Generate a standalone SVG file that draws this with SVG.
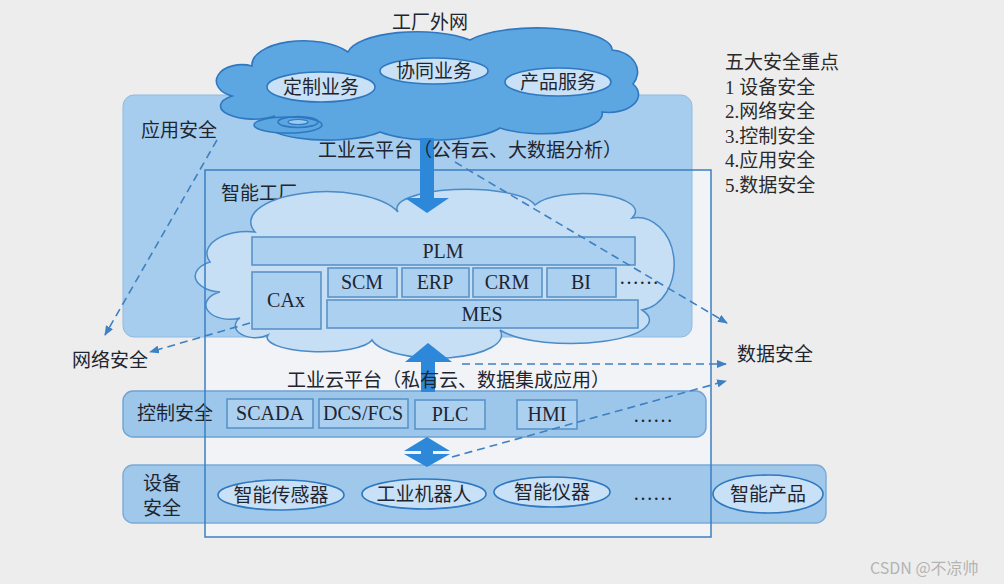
<svg xmlns="http://www.w3.org/2000/svg" width="1004" height="584" viewBox="0 0 1004 584">
<style>
.cn{font-family:"Noto Sans CJK SC","Noto Sans",sans-serif;font-size:19px;fill:#1e2530}
.lt{font-family:"Liberation Serif","Noto Sans CJK SC",serif;font-size:20px;fill:#1e2530}
.list{font-family:"Liberation Serif","Noto Sans CJK SC",serif;font-size:19px;fill:#2a2a2a}
.box{fill:#acd0f0;stroke:#5a93c9;stroke-width:1.6}
.oval{fill:#c9e1f6;stroke:#2f78c0;stroke-width:1.6}
.dash{fill:none;stroke:#3f80c2;stroke-width:1.6;stroke-dasharray:8 5}
.big{fill:#2d88d9}
</style>
<defs>
<marker id="ah" markerWidth="10" markerHeight="8" refX="9" refY="4" orient="auto" markerUnits="userSpaceOnUse">
<path d="M0,0 L10,4 L0,8 z" fill="#3f80c2"/>
</marker>
</defs>
<rect width="1004" height="584" fill="#ededed"/>

<g id="factory-bg"><rect x="205" y="170" width="506" height="367" fill="#f1f3f6"/></g>

<g id="app-security">
<rect x="123" y="95" width="569" height="242" rx="11" fill="#a7cdee" stroke="#8dbbe3" stroke-width="1"/>
<text class="cn" x="141" y="137">应用安全</text>
</g>

<g id="external-cloud">
<path d="M232,96 A22,14 0 0 1 252,66 A52,24 0 0 1 348,52 A70,24 0 0 1 470,40 A75,22 0 0 1 612,50 A28,22 0 0 1 633,84 A30,18 0 0 1 602,112 A60,20 0 0 1 500,128 A70,20 0 0 1 380,132 A60,16 0 0 1 275,116 A30,12 0 0 1 232,96 Z" fill="#5ca6e2" stroke="#2f78c0" stroke-width="1.6"/>
<ellipse cx="288" cy="125" rx="34" ry="8" fill="#5ca6e2" stroke="#2f78c0" stroke-width="1.6"/>
<ellipse cx="298" cy="122" rx="20" ry="5.5" fill="none" stroke="#2f78c0" stroke-width="1.6"/>
<ellipse cx="298" cy="122" rx="10" ry="2.5" fill="#9cc9ef" stroke="#2f78c0" stroke-width="1.2"/>
<text class="cn" x="430" y="29" text-anchor="middle">工厂外网</text>
<g id="custom"><ellipse class="oval" cx="321" cy="87" rx="54" ry="15"/><text class="cn" x="321" y="94" text-anchor="middle">定制业务</text></g>
<g id="collab"><ellipse class="oval" cx="434" cy="71" rx="54" ry="13"/><text class="cn" x="434" y="78" text-anchor="middle">协同业务</text></g>
<g id="product-service"><ellipse class="oval" cx="558" cy="82" rx="53" ry="14"/><text class="cn" x="558" y="89" text-anchor="middle">产品服务</text></g>
</g>

<g id="factory-label"><text class="cn" x="221" y="200">智能工厂</text></g>

<g id="factory-cloud">
<path d="M255,232 A55,22 0 0 1 398,212 A65,18 0 0 1 535,205 A52,18 0 0 1 632,218 A32,40 0 0 1 642,310 A60,18 0 0 1 500,330 A62,22 0 0 1 372,340 A52,14 0 0 1 268,335 A20,12 0 0 1 240,318 A22,13 0 0 1 220,292 A28,16 0 0 1 210,262 A40,22 0 0 1 255,232 Z" fill="#c6dff4" stroke="#4a8bc8" stroke-width="1.5"/>
</g>

<g id="plm"><rect class="box" x="252" y="237" width="383" height="28"/><text class="lt" x="443" y="258" text-anchor="middle">PLM</text></g>
<g id="cax"><rect class="box" x="252" y="272" width="69" height="57"/><text class="lt" x="286" y="307" text-anchor="middle">CAx</text></g>
<g id="scm"><rect class="box" x="328" y="268" width="69" height="29"/><text class="lt" x="362" y="289" text-anchor="middle">SCM</text></g>
<g id="erp"><rect class="box" x="402" y="268" width="67" height="29"/><text class="lt" x="435" y="289" text-anchor="middle">ERP</text></g>
<g id="crm"><rect class="box" x="473" y="268" width="69" height="29"/><text class="lt" x="507" y="289" text-anchor="middle">CRM</text></g>
<g id="bi"><rect class="box" x="547" y="268" width="69" height="29"/><text class="lt" x="581" y="289" text-anchor="middle">BI</text></g>
<g id="more-apps"><text class="lt" x="619" y="284">……</text></g>
<g id="mes"><rect class="box" x="327" y="300" width="311" height="28"/><text class="lt" x="482" y="321" text-anchor="middle">MES</text></g>

<g id="network-label"><text class="cn" x="72" y="367">网络安全</text></g>
<g id="data-label"><text class="cn" x="737" y="361">数据安全</text></g>

<g id="control-security">
<rect x="123" y="391" width="583" height="46" rx="10" fill="#9cc6ea" stroke="#6ea3d3" stroke-width="1.4"/>
<text class="cn" x="137" y="420">控制安全</text>
</g>
<g id="scada"><rect class="box" x="227" y="399" width="86" height="29"/><text class="lt" x="270" y="420" text-anchor="middle">SCADA</text></g>
<g id="dcs"><rect class="box" x="319" y="399" width="89" height="29"/><text class="lt" x="363" y="420" text-anchor="middle">DCS/FCS</text></g>
<g id="plc"><rect class="box" x="415" y="400" width="70" height="29"/><text class="lt" x="450" y="421" text-anchor="middle">PLC</text></g>
<g id="hmi"><rect class="box" x="517" y="400" width="60" height="29"/><text class="lt" x="547" y="421" text-anchor="middle">HMI</text></g>
<g id="more-control"><text class="lt" x="633" y="422">……</text></g>

<g id="device-security">
<rect x="123" y="465" width="703" height="58" rx="10" fill="#9fc8ea" stroke="#7aaad6" stroke-width="1.4"/>
<text class="cn" x="143" y="490">设备</text>
<text class="cn" x="143" y="515">安全</text>
</g>
<g id="sensor"><ellipse class="oval" cx="281" cy="495" rx="63" ry="15"/><text class="cn" x="281" y="502" text-anchor="middle">智能传感器</text></g>
<g id="robot"><ellipse class="oval" cx="424" cy="494" rx="62" ry="15"/><text class="cn" x="424" y="501" text-anchor="middle">工业机器人</text></g>
<g id="instrument"><ellipse class="oval" cx="552" cy="492" rx="58" ry="15"/><text class="cn" x="552" y="499" text-anchor="middle">智能仪器</text></g>
<g id="more-devices"><text class="lt" x="633" y="500">……</text></g>
<g id="smart-product"><ellipse class="oval" cx="768" cy="494" rx="55" ry="19"/><text class="cn" x="768" y="501" text-anchor="middle">智能产品</text></g>

<g id="factory-frame"><rect x="205" y="170" width="506" height="367" fill="none" stroke="#3b7fc2" stroke-width="1.5"/></g>

<g id="connectors">
<path class="big" d="M420,138 H434 V198 H449 L427,213 L405,198 H420 Z"/>
<path class="big" d="M428,343 L452,362 H435 V392 H421 V362 H405 Z"/>
<path class="big" d="M427,437 L450,451 H433 V454 H450 L427,467 L404,454 H421 V451 H404 Z"/>
<line class="dash" x1="217" y1="140" x2="105" y2="335" marker-end="url(#ah)"/>
<line class="dash" x1="250" y1="323" x2="150" y2="352" marker-end="url(#ah)"/>
<line class="dash" x1="455" y1="162" x2="727" y2="323" marker-end="url(#ah)"/>
<line class="dash" x1="462" y1="364" x2="726" y2="364" marker-end="url(#ah)"/>
<line class="dash" x1="452" y1="457" x2="726" y2="381" marker-end="url(#ah)"/>
</g>

<g id="public-cloud-label"><text class="cn" x="318" y="157">工业云平台（公有云、大数据分析）</text></g>
<g id="private-cloud-label"><text class="cn" x="287" y="387">工业云平台（私有云、数据集成应用）</text></g>

<g id="key-points">
<text class="list" x="725" y="69">五大安全重点</text>
<text class="list" x="725" y="94">1 设备安全</text>
<text class="list" x="725" y="118">2.网络安全</text>
<text class="list" x="725" y="143">3.控制安全</text>
<text class="list" x="725" y="167">4.应用安全</text>
<text class="list" x="725" y="192">5.数据安全</text>
</g>

<g id="watermark"><text x="870" y="574" font-family="'Noto Sans CJK SC','Noto Sans',sans-serif" font-size="16" fill="#b4b4b4">CSDN @不凉帅</text></g>
</svg>
